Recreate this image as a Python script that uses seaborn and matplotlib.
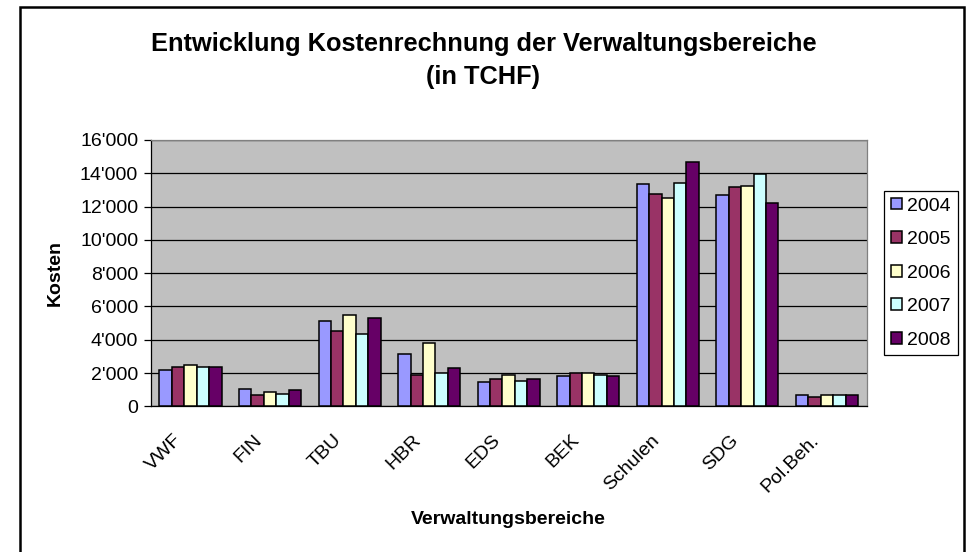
import numpy as np
import pandas as pd
import matplotlib
matplotlib.use("Agg")
import matplotlib.pyplot as plt
import seaborn as sns
from matplotlib.patches import Rectangle
from matplotlib.ticker import FuncFormatter, MultipleLocator
from matplotlib.transforms import ScaledTranslation

BEREICHE = ["VWF", "FIN", "TBU", "HBR", "EDS", "BEK", "Schulen", "SDG", "Pol.Beh."]
JAHRE = ["2004", "2005", "2006", "2007", "2008"]

K2004 = [2180, 1060, 5130, 3120, 1440, 1820, 13340, 12680, 680]
K2005 = [2360, 680, 4550, 1880, 1640, 1980, 12780, 13160, 580]
K2006 = [2460, 860, 5510, 3790, 1880, 1980, 12500, 13240, 680]
K2007 = [2360, 760, 4370, 1980, 1540, 1880, 13440, 13940, 680]
K2008 = [2360, 960, 5310, 2280, 1640, 1820, 14660, 12200, 680]

FARBEN = ["#9999FF", "#993366", "#FFFFCC", "#CCFFFF", "#660066"]

W, H = 967, 552


def main() -> None:
    sns.set_theme(style="white")
    plt.rcParams["font.family"] = ["Liberation Sans", "DejaVu Sans"]
    for key in ("text.color", "axes.labelcolor", "xtick.color", "ytick.color"):
        plt.rcParams[key] = "black"

    df = pd.DataFrame({
        "bereich": np.repeat([BEREICHE], len(JAHRE), axis=0).ravel(),
        "jahr": np.repeat(JAHRE, len(BEREICHE)),
        "kosten": K2004 + K2005 + K2006 + K2007 + K2008,
    })

    fig = plt.figure(figsize=(W / 100, H / 100), dpi=100)
    ax = fig.add_axes([150.7 / W, 1 - 406.3 / H, (866.7 - 150.7) / W, (406.3 - 140) / H])
    ax.set_facecolor("#C0C0C0")

    sns.barplot(
        data=df, x="bereich", y="kosten", hue="jahr",
        order=BEREICHE, hue_order=JAHRE,
        palette=FARBEN, saturation=1, width=0.78,
        edgecolor="black", linewidth=1.1, errorbar=None, ax=ax, zorder=3,
    )

    ax.set_ylim(0, 16000)
    ax.set_xlim(-0.5, len(BEREICHE) - 0.5)
    ax.yaxis.set_major_locator(MultipleLocator(2000))
    ax.yaxis.set_major_formatter(FuncFormatter(lambda v, _: f"{int(v):,}".replace(",", "'")))
    ax.grid(axis="y", color="black", linewidth=0.9, zorder=1)
    ax.set_axisbelow(True)

    # ticks between categories, labels at centres
    ax.set_xticks(np.arange(-0.5, len(BEREICHE)), minor=True)
    ax.tick_params(axis="x", which="minor", length=5, width=0.9, color="black", direction="out")
    ax.tick_params(axis="x", which="major", length=0, pad=6)
    ax.tick_params(axis="y", length=5, width=0.9, color="black", direction="out", left=True, labelsize=14, pad=4)
    ax.set_xticks(range(len(BEREICHE)))
    ax.set_xticklabels(BEREICHE, rotation=45, ha="right", va="top", rotation_mode="anchor", fontsize=14)
    shift = ScaledTranslation(-17 / 100, -17 / 100, fig.dpi_scale_trans)
    for lbl in ax.get_xticklabels():
        lbl.set_transform(lbl.get_transform() + shift)

    for side in ("left", "bottom"):
        ax.spines[side].set_color("black")
        ax.spines[side].set_linewidth(0.9)
    for side in ("top", "right"):
        ax.spines[side].set_color("#808080")
        ax.spines[side].set_linewidth(0.9)

    ax.set_xlabel("Verwaltungsbereiche", fontsize=14, fontweight="bold")
    ax.set_ylabel("Kosten", fontsize=14, fontweight="bold")
    ax.xaxis.set_label_coords(0.5, 1 - (511 - 140) / (406.3 - 140), transform=ax.transAxes)
    ax.yaxis.set_label_coords((64 - 150.7) / (866.7 - 150.7), 0.5, transform=ax.transAxes)

    fig.text(0.5, 1 - 44 / H, "Entwicklung Kostenrechnung der Verwaltungsbereiche",
             ha="center", va="center", fontsize=18.3, fontweight="bold")
    fig.text(0.5, 1 - 77 / H, "(in TCHF)",
             ha="center", va="center", fontsize=18.3, fontweight="bold")

    handles, labels = ax.get_legend_handles_labels()
    leg = ax.legend(
        handles, labels, loc="upper left",
        bbox_to_anchor=(884 / W, 1 - 190.7 / H), bbox_transform=fig.transFigure,
        fontsize=14, frameon=True, fancybox=False, framealpha=1,
        edgecolor="black", handlelength=0.55, handleheight=0.55,
        handletextpad=0.3, labelspacing=0.85, borderpad=0.35, borderaxespad=0,
    )
    leg.get_frame().set_linewidth(0.9)

    fig.patches.append(Rectangle(
        (20 / W, -0.05), (964 - 20) / W, 1.05 - 7 / H,
        transform=fig.transFigure, fill=False, edgecolor="black", linewidth=1.8,
    ))

    fig.savefig("out.png", dpi=100, facecolor="white")
    plt.close(fig)


if __name__ == "__main__":
    main()
